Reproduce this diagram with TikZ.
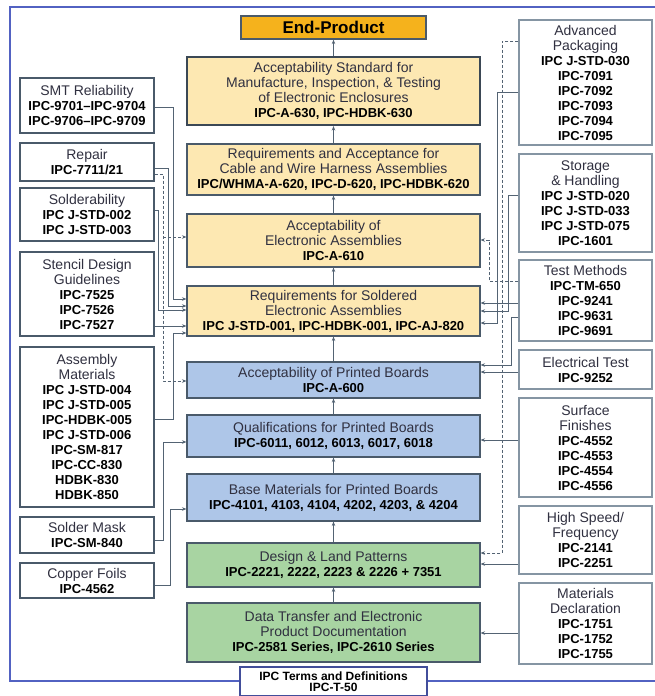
\documentclass[tikz,border=0pt]{standalone}
\usepackage{fontspec}
\setmainfont{Liberation Sans}
\usetikzlibrary{arrows.meta}
\definecolor{frameblue}{HTML}{5262C2}
\definecolor{edge}{HTML}{4A5A6A}
\definecolor{redge}{HTML}{8595A3}
\definecolor{conn}{HTML}{536373}
\definecolor{yel}{HTML}{FDE8B2}
\definecolor{blu}{HTML}{AEC6E8}
\definecolor{grn}{HTML}{A8D4A2}
\definecolor{org}{HTML}{F5B21C}
\definecolor{txt}{HTML}{303040}
\newcommand\bx[1]{{\fontsize{13}{15}\selectfont\bfseries\color{black}#1}}
\begin{document}
\begin{tikzpicture}[x=1pt,y=-1pt,
 base/.style={inner sep=0pt, align=center, text=txt, font=\fontsize{14}{15}\selectfont},
 cbox/.style={base, draw=edge, line width=1.1pt, minimum width=293pt},
 lbox/.style={base, draw=edge, line width=1.2pt, fill=white, minimum width=134pt},
 rbox/.style={base, draw=redge, line width=1.2pt, fill=white, minimum width=133pt},
 arr/.style={draw=conn, line width=1pt, -{Stealth[length=4.5pt,width=3.5pt]}},
 darr/.style={arr, dash pattern=on 3pt off 2pt},
]
\useasboundingbox (0,0) rectangle (654,696);
\draw[frameblue, line width=1.2pt] (660,7) -- (10,7) -- (10,681) -- (660,681);

% top and bottom
\node[base, draw=edge, line width=1.2pt, fill=org, minimum width=185pt, minimum height=23pt,
  font=\fontsize{17}{20}\selectfont\bfseries, text=black] (end) at (333.5,27.5) {End-Product};
\node[base, draw=frameblue!80!black, line width=1.2pt, fill=white, minimum width=187pt, minimum height=29pt,
  font=\fontsize{12}{11.5}\selectfont\bfseries, text=black] (terms) at (333.5,681.5) {IPC Terms and Definitions\\IPC-T-50};

% center column
\node[cbox, fill=yel, draw=edge!80!black, line width=2pt, minimum height=68pt] (b1) at (333.5,91)
  {Acceptability Standard for\\Manufacture, Inspection, \& Testing\\of Electronic Enclosures\\\bx{IPC-A-630, IPC-HDBK-630}};
\node[cbox, fill=yel, minimum height=51pt] (b2) at (333.5,169.5)
  {Requirements and Acceptance for\\Cable and Wire Harness Assemblies\\\bx{IPC/WHMA-A-620, IPC-D-620, IPC-HDBK-620}};
\node[cbox, fill=yel, minimum height=53pt] (b3) at (333.5,240.5)
  {Acceptability of\\Electronic Assemblies\\\bx{IPC-A-610}};
\node[cbox, fill=yel, minimum height=50pt] (b4) at (333.5,311)
  {Requirements for Soldered\\Electronic Assemblies\\\bx{IPC J-STD-001, IPC-HDBK-001, IPC-AJ-820}};
\node[cbox, fill=blu, minimum height=36pt] (b5) at (333.5,380)
  {Acceptability of Printed Boards\\\bx{IPC-A-600}};
\node[cbox, fill=blu, minimum height=42pt] (b6) at (333.5,436)
  {Qualifications for Printed Boards\\\bx{IPC-6011, 6012, 6013, 6017, 6018}};
\node[cbox, fill=blu, minimum height=47pt] (b7) at (333.5,497.5)
  {Base Materials for Printed Boards\\\bx{IPC-4101, 4103, 4104, 4202, 4203, \& 4204}};
\node[cbox, fill=grn, minimum height=44pt] (b8) at (333.5,565)
  {Design \& Land Patterns\\\bx{IPC-2221, 2222, 2223 \& 2226 + 7351}};
\node[cbox, fill=grn, minimum height=59pt] (b9) at (333.5,632.5)
  {Data Transfer and Electronic\\Product Documentation\\\bx{IPC-2581 Series, IPC-2610 Series}};

% left column
\node[lbox, minimum height=55pt] (L1) at (87,105.5) {SMT Reliability\\\bx{IPC-9701--IPC-9704}\\\bx{IPC-9706--IPC-9709}};
\node[lbox, minimum height=38pt] (L2) at (87,162) {Repair\\\bx{IPC-7711/21}};
\node[lbox, minimum height=53pt] (L3) at (87,214.5) {Solderability\\\bx{IPC J-STD-002}\\\bx{IPC J-STD-003}};
\node[lbox, minimum height=84pt] (L4) at (87,294) {Stencil Design\\Guidelines\\\bx{IPC-7525}\\\bx{IPC-7526}\\\bx{IPC-7527}};
\node[lbox, minimum height=160pt] (L5) at (87,427) {Assembly\\Materials\\\bx{IPC J-STD-004}\\\bx{IPC J-STD-005}\\\bx{IPC-HDBK-005}\\\bx{IPC J-STD-006}\\\bx{IPC-SM-817}\\\bx{IPC-CC-830}\\\bx{HDBK-830}\\\bx{HDBK-850}};
\node[lbox, minimum height=36pt] (L6) at (87,535) {Solder Mask\\\bx{IPC-SM-840}};
\node[lbox, minimum height=35pt] (L7) at (87,580.5) {Copper Foils\\\bx{IPC-4562}};

% right column
\node[rbox, minimum height=125pt] (R1) at (585.5,82.5) {Advanced\\Packaging\\\bx{IPC J-STD-030}\\\bx{IPC-7091}\\\bx{IPC-7092}\\\bx{IPC-7093}\\\bx{IPC-7094}\\\bx{IPC-7095}};
\node[rbox, minimum height=98pt] (R2) at (585.5,203) {Storage\\\& Handling\\\bx{IPC J-STD-020}\\\bx{IPC J-STD-033}\\\bx{IPC J-STD-075}\\\bx{IPC-1601}};
\node[rbox, minimum height=81pt] (R3) at (585.5,300.5) {Test Methods\\\bx{IPC-TM-650}\\\bx{IPC-9241}\\\bx{IPC-9631}\\\bx{IPC-9691}};
\node[rbox, minimum height=39pt] (R4) at (585.5,369.5) {Electrical Test\\\bx{IPC-9252}};
\node[rbox, minimum height=99pt] (R5) at (585.5,447.5) {Surface\\Finishes\\\bx{IPC-4552}\\\bx{IPC-4553}\\\bx{IPC-4554}\\\bx{IPC-4556}};
\node[rbox, minimum height=68pt] (R6) at (585.5,540) {High Speed/\\Frequency\\\bx{IPC-2141}\\\bx{IPC-2251}};
\node[rbox, minimum height=81pt] (R7) at (585.5,623.5) {Materials\\Declaration\\\bx{IPC-1751}\\\bx{IPC-1752}\\\bx{IPC-1755}};

% center vertical arrows
\draw[arr] (b1.north) -- (end.south);
\draw[arr] (b2.north) -- (b1.south);
\draw[arr] (b3.north) -- (b2.south);
\draw[arr] (b4.north) -- (b3.south);
\draw[arr] (b5.north) -- (b4.south);
\draw[arr] (b6.north) -- (b5.south);
\draw[arr] (b7.north) -- (b6.south);
\draw[arr] (b8.north) -- (b7.south);
\draw[arr] (b9.north) -- (b8.south);

% left connectors
\draw[arr] (L1.east |- 0,107) -| (173,299) -- (b4.west |- 0,299);
\draw[arr] (L2.east |- 0,168) -| (168,306) -- (b4.west |- 0,306);
\draw[darr] (L2.east |- 0,174) -| (163,381) -- (b5.west |- 0,381);
\draw[darr] (163,237) -- (b3.west |- 0,237);
\draw[arr] (L3.east |- 0,210) -| (158,310) -- (b4.west |- 0,310);
\draw[arr] (L4.east |- 0,326) -- (b4.west |- 0,326);
\draw[arr] (L5.east |- 0,419) -| (173,333) -- (b4.west |- 0,333);
\draw[arr] (L6.east |- 0,540) -| (163,442) -- (b6.west |- 0,442);
\draw[arr] (L7.east |- 0,585) -| (170,509) -- (b7.west |- 0,509);

% right connectors
\draw[darr] (R1.west |- 0,41) -| (502,553) -- (b8.east |- 0,553);
\draw[arr] (R1.west |- 0,92) -| (497,323) -- (b4.east |- 0,323);
\draw[arr] (R2.west |- 0,195) -| (508,311) -- (b4.east |- 0,311);
\draw[darr] (R3.west |- 0,281) -| (489,240) -- (b3.east |- 0,240);
\draw[arr] (R3.west |- 0,303) -- (b4.east |- 0,303);
\draw[arr] (R3.west |- 0,317) -| (511,365) -- (b5.east |- 0,365);
\draw[arr] (R4.west |- 0,372) -- (b5.east |- 0,372);
\draw[arr] (R5.west |- 0,440) -- (b6.east |- 0,440);
\draw[arr] (R6.west |- 0,564) -- (b8.east |- 0,564);
\draw[arr] (R7.west |- 0,633) -- (b9.east |- 0,633);
\end{tikzpicture}
\end{document}
